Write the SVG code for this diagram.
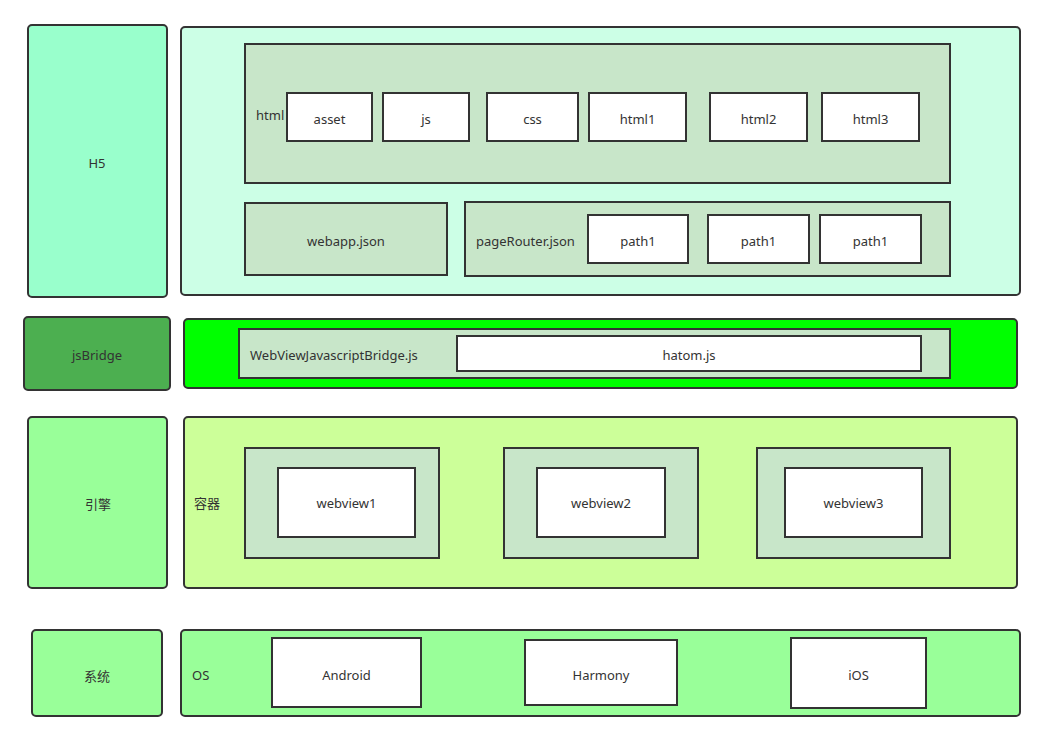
<svg xmlns="http://www.w3.org/2000/svg" width="1045" height="753" viewBox="0 0 1045 753">
<style>
rect{stroke:#333;stroke-width:2}
rect.bg{stroke:none;fill:#fff}
.w{fill:#fff}
.g{fill:#c8e6c9}
text{font-family:"Noto Sans","Noto Sans CJK SC",sans-serif;font-size:13px;fill:#333;dominant-baseline:central}
.c{text-anchor:middle}
</style>
<rect class="bg" width="1045" height="753"/>
<g id="h5-label"><rect x="28" y="25" width="139" height="272" rx="4" fill="#99ffcc"/><text class="c" x="97" y="163">H5</text></g>
<g id="h5-layer">
<rect x="181" y="27" width="839" height="268" rx="4" fill="#ccffe6"/>
<g id="html"><rect class="g" x="245" y="44" width="705" height="139"/><text x="256" y="115">html</text></g>
<g id="asset"><rect class="w" x="287" y="93" width="85" height="48"/><text class="c" x="329.5" y="119">asset</text></g>
<g id="js"><rect class="w" x="383" y="93" width="86" height="48"/><text class="c" x="426" y="119">js</text></g>
<g id="css"><rect class="w" x="487" y="93" width="91" height="48"/><text class="c" x="532.5" y="119">css</text></g>
<g id="html1"><rect class="w" x="589" y="93" width="97" height="48"/><text class="c" x="637.5" y="119">html1</text></g>
<g id="html2"><rect class="w" x="710" y="93" width="97" height="48"/><text class="c" x="758.5" y="119">html2</text></g>
<g id="html3"><rect class="w" x="822" y="93" width="97" height="48"/><text class="c" x="870.5" y="119">html3</text></g>
<g id="webapp"><rect class="g" x="245" y="203" width="202" height="72"/><text class="c" x="346" y="241">webapp.json</text></g>
<g id="pageRouter"><rect class="g" x="465" y="202" width="485" height="74"/><text x="476" y="241">pageRouter.json</text></g>
<g id="path1a"><rect class="w" x="588" y="215" width="100" height="48"/><text class="c" x="638" y="241">path1</text></g>
<g id="path1b"><rect class="w" x="708" y="215" width="101" height="48"/><text class="c" x="758.5" y="241">path1</text></g>
<g id="path1c"><rect class="w" x="820" y="215" width="101" height="48"/><text class="c" x="870.5" y="241">path1</text></g>
</g>
<g id="jsbridge-label"><rect x="24" y="317" width="146" height="73" rx="4" fill="#4caf50"/><text class="c" x="97" y="355">jsBridge</text></g>
<g id="jsbridge-layer">
<rect x="184" y="319" width="833" height="69" rx="4" fill="#00ff00"/>
<g id="wvjb"><rect class="g" x="239" y="329" width="711" height="49"/><text x="250" y="355">WebViewJavascriptBridge.js</text></g>
<g id="hatom"><rect class="w" x="457" y="336" width="464" height="35"/><text class="c" x="689" y="355">hatom.js</text></g>
</g>
<g id="engine-label"><rect x="28" y="417" width="139" height="171" rx="4" fill="#99ff99"/><text class="c" x="98" y="504">引擎</text></g>
<g id="engine-layer">
<rect x="184" y="417" width="833" height="171" rx="4" fill="#ccff99"/>
<text x="194" y="503">容器</text>
<g id="webview1"><rect class="g" x="245" y="448" width="194" height="110"/><rect class="w" x="278" y="468" width="137" height="69"/><text class="c" x="346.5" y="503">webview1</text></g>
<g id="webview2"><rect class="g" x="504" y="448" width="194" height="110"/><rect class="w" x="537" y="468" width="128" height="69"/><text class="c" x="601" y="503">webview2</text></g>
<g id="webview3"><rect class="g" x="757" y="448" width="193" height="110"/><rect class="w" x="785" y="468" width="137" height="69"/><text class="c" x="853.5" y="503">webview3</text></g>
</g>
<g id="system-label"><rect x="32" y="630" width="130" height="86" rx="4" fill="#99ff99"/><text class="c" x="97" y="676">系统</text></g>
<g id="os-layer">
<rect x="181" y="630" width="839" height="86" rx="4" fill="#99ff99"/>
<text x="192" y="675">OS</text>
<g id="android"><rect class="w" x="272" y="638" width="149" height="69"/><text class="c" x="346.5" y="675">Android</text></g>
<g id="harmony"><rect class="w" x="525" y="640" width="152" height="65"/><text class="c" x="601" y="675">Harmony</text></g>
<g id="ios"><rect class="w" x="791" y="638" width="135" height="70"/><text class="c" x="858.5" y="675">iOS</text></g>
</g>
<g id="connectors"/>
</svg>
